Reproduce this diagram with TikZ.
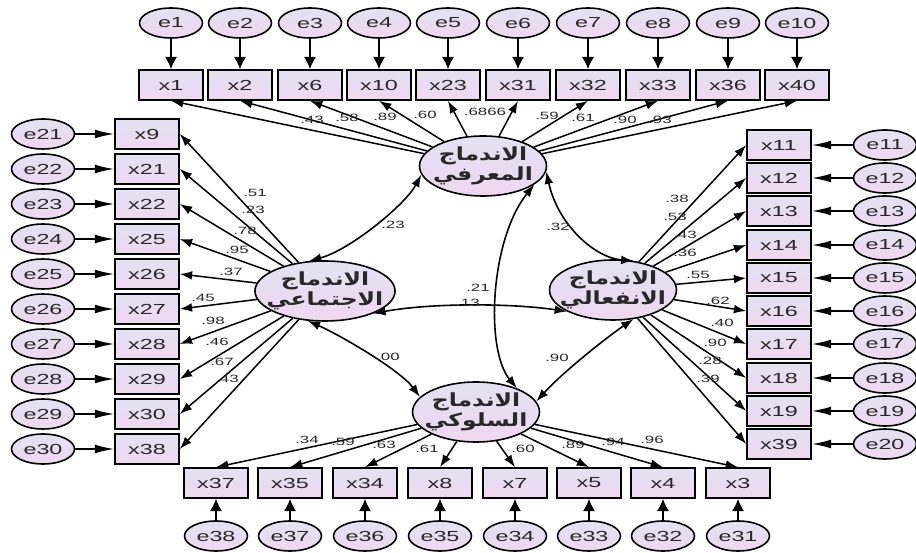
\documentclass[tikz,border=0pt]{standalone}
\usepackage{fontspec}
\setmainfont{Liberation Sans}[FakeStretch=1.6]
\newfontfamily\arabicfont[Script=Arabic,FakeStretch=1.3]{DejaVu Sans}
\TeXXeTstate=1
\usetikzlibrary{shapes.geometric,arrows.meta}
\definecolor{topfill}{RGB}{226,226,242}
\definecolor{botfill}{RGB}{240,214,242}
\definecolor{inkgray}{RGB}{40,40,40}

\begin{document}
\begin{tikzpicture}[x=0.02cm,y=-0.02cm,
  obs/.style={draw,line width=0.9pt,rectangle,minimum width=1.28cm,minimum height=0.6cm,
    inner sep=0pt,top color=topfill,bottom color=botfill,text=inkgray,
    font=\fontsize{8.3}{9}\selectfont},
  err/.style={draw,line width=0.9pt,ellipse,minimum width=1.26cm,minimum height=0.6cm,
    inner sep=0pt,top color=topfill,bottom color=botfill,text=inkgray,
    font=\fontsize{8.3}{9}\selectfont},
  lat/.style={draw,line width=0.9pt,ellipse,minimum width=2.54cm,minimum height=1.2cm,
    inner xsep=-5pt,inner ysep=-4pt,align=center,top color=topfill,bottom color=botfill,
    text=inkgray,font=\arabicfont\bfseries\fontsize{10.3}{11.5}\selectfont},
  coef/.style={inner sep=0pt,text=inkgray,font=\fontsize{6}{6}\selectfont},
  load/.style={-{Latex[length=7pt,width=5pt]},line width=0.85pt},
  errv/.style={-{Latex[length=7pt,width=7pt]},line width=1.1pt},
  errh/.style={-{Latex[length=11pt,width=5pt]},line width=0.9pt},
  cov/.style={{Latex[length=7pt,width=5pt]}-{Latex[length=7pt,width=5pt]},line width=0.9pt}]
  \useasboundingbox (0,0) rectangle (916,553);

  % latent factors
  \node[lat] (cog) at (483,166) {\beginR الاندماج\endR\\\beginR المعرفي\endR};
  \node[lat] (soc) at (325,291) {\beginR الاندماج\endR\\\beginR الاجتماعي\endR};
  \node[lat] (emo) at (613,290) {\beginR الاندماج\endR\\\beginR الانفعالي\endR};
  \node[lat] (beh) at (476,412) {\beginR الاندماج\endR\\\beginR السلوكي\endR};

  % top row
  \foreach \e/\x/\px in {e1/x1/171,e2/x2/240,e3/x6/310,e4/x10/379,e5/x23/448,
      e6/x31/518,e7/x32/588,e8/x33/658,e9/x36/728,e10/x40/797}{
    \node[err] (\e) at (\px,23) {\e};
    \node[obs] (\x) at (\px,85) {\x};
    \draw[errv] (\e) -- (\x);
    \draw[load] (cog) -- (\x.south);
  }

  % left column
  \foreach \e/\x/\py in {e21/x9/134,e22/x21/169,e23/x22/204,e24/x25/239,e25/x26/274,
      e26/x27/309,e27/x28/344,e28/x29/379,e29/x30/414,e30/x38/449}{
    \node[err] (\e) at (43,\py) {\e};
    \node[obs] (\x) at (147,\py) {\x};
    \draw[errh] (\e) -- (\x);
    \draw[load] (soc) -- (\x.east);
  }

  % right column
  \foreach \e/\x/\py in {e11/x11/145,e12/x12/178,e13/x13/211,e14/x14/245,e15/x15/278,
      e16/x16/311,e17/x17/344,e18/x18/378,e19/x19/411,e20/x39/444}{
    \node[err] (\e) at (885,\py) {\e};
    \node[obs] (\x) at (779,\py) {\x};
    \draw[errh] (\e) -- (\x);
    \draw[load] (emo) -- (\x.west);
  }

  % bottom row
  \foreach \e/\x/\px in {e38/x37/216,e37/x35/290,e36/x34/365,e35/x8/440,
      e34/x7/515,e33/x5/589,e32/x4/663,e31/x3/738}{
    \node[err] (\e) at (\px,536) {\e};
    \node[obs] (\x) at (\px,483) {\x};
    \draw[errv] (\e) -- (\x);
    \draw[load] (beh) -- (\x.north);
  }

  % covariances
  \draw[cov] (soc.118) .. controls (350,250) and (405,205) .. (cog.188);
  \draw[cov] (cog.355) .. controls (558,225) and (595,258) .. (emo.55);
  \draw[cov] (soc.335) .. controls (430,303) and (510,303) .. (emo.205);
  \draw[cov] (cog.340) .. controls (490,240) and (485,350) .. (beh.30);
  \draw[cov] (soc.240) .. controls (340,335) and (400,370) .. (beh.165);
  \draw[cov] (emo.305) .. controls (610,335) and (565,370) .. (beh.10);

  % estimates
  \foreach \lx/\ly/\v [count=\i] in {312/120/.43,347/118/.58,385/117/.89,425/115/.60,
      485/112/.6866,547/116/.59,583/118/.61,625/120/.90,660/120/.93,
      255/193/.51,253/210/.23,245/231/.78,237/250/.95,231/272/.37,203/298/.45,
      213/321/.98,217/342/.46,222/362/.67,227/379/.43,
      677/199/.38,675/217/.53,685/235/.43,685/253/.36,698/275/.55,718/301/.62,
      722/323/.40,715/343/.90,710/361/.28,708/379/.39,
      307/440/.34,343/442/.59,384/445/.63,427/449/.61,523/449/.60,573/445/.89,
      613/442/.94,652/440/.96,
      393/225/.23,558/227/.32,478/288/.21,468/303/.13,388/357/.00,557/358/.90}
    \node[coef] (c\i) at (\lx,\ly) {\v};
\end{tikzpicture}
\end{document}
